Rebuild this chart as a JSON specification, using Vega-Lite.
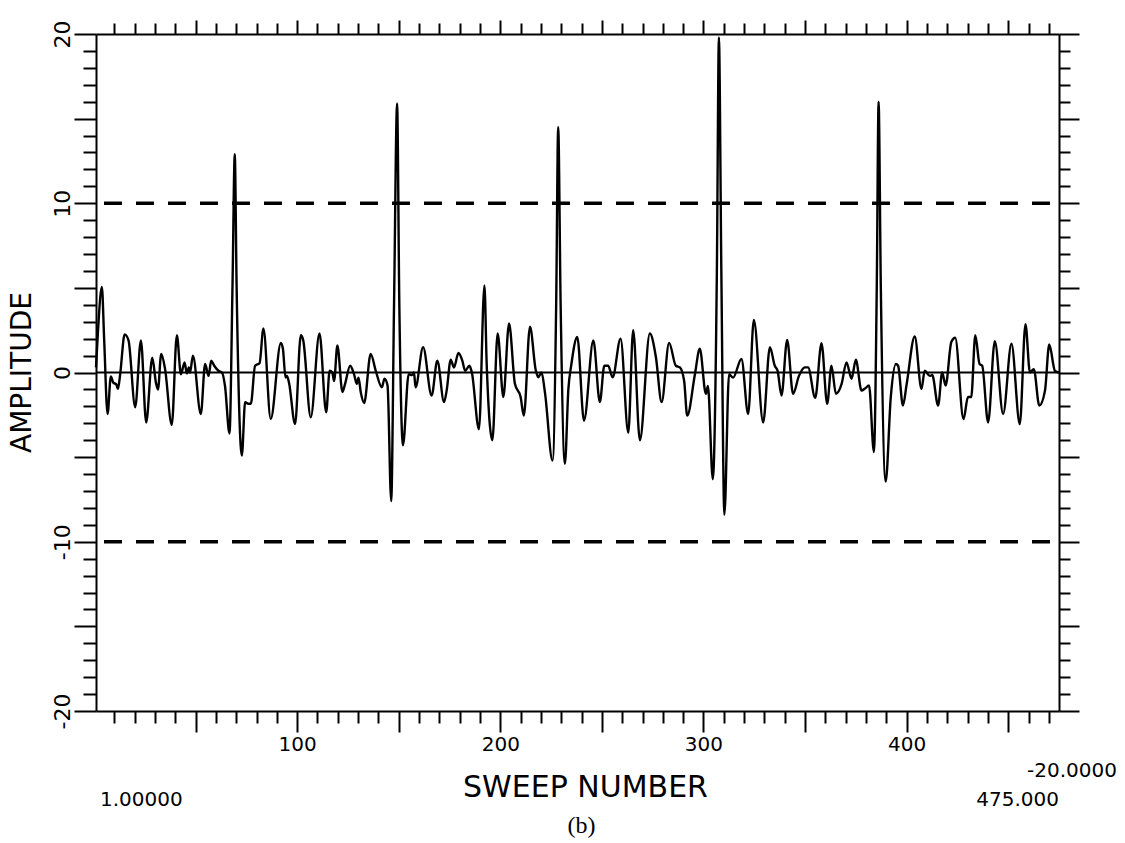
{
  "$schema": "https://vega.github.io/schema/vega-lite/v6.json",
  "width": 963,
  "height": 677,
  "autosize": {"type": "none"},
  "padding": {"left": 96, "top": 34, "right": 66, "bottom": 132},
  "background": "white",
  "config": {
    "view": {"stroke": null},
    "axis": {
      "grid": false,
      "domainColor": "black",
      "domainWidth": 2,
      "tickColor": "black",
      "tickWidth": 2,
      "labelColor": "black",
      "titleColor": "black",
      "labelFont": "DejaVu Sans",
      "titleFont": "DejaVu Sans",
      "titleFontWeight": "normal",
      "labelOverlap": false,
      "labelFlush": false
    }
  },
  "datasets": {
    "signal": [
      {"x": 1, "y": 0.3}, {"x": 2, "y": 2.5}, {"x": 3.9, "y": 5.05}, {"x": 5, "y": 2}, {"x": 6.7, "y": -2.45},
      {"x": 8.3, "y": -0.24}, {"x": 9.5, "y": -0.6}, {"x": 11, "y": -0.7}, {"x": 11.8, "y": -0.97}, {"x": 12.9, "y": -0.1},
      {"x": 15.1, "y": 2.25}, {"x": 17, "y": 1.9}, {"x": 20.3, "y": -2.05}, {"x": 23.1, "y": 1.9}, {"x": 25.7, "y": -2.95},
      {"x": 28.7, "y": 0.87}, {"x": 30.5, "y": -0.6}, {"x": 31.5, "y": -1.0}, {"x": 33.1, "y": 1.1}, {"x": 35, "y": 0.2},
      {"x": 38.3, "y": -3.1}, {"x": 40.8, "y": 2.2}, {"x": 42.8, "y": -0.1}, {"x": 44.6, "y": 0.6}, {"x": 45.7, "y": -0.05},
      {"x": 46.7, "y": 0.3}, {"x": 47.3, "y": 0}, {"x": 48.7, "y": 1.0}, {"x": 52.6, "y": -2.45}, {"x": 54.7, "y": 0.5},
      {"x": 56.4, "y": -0.2}, {"x": 57.7, "y": 0.7}, {"x": 59.2, "y": 0.4}, {"x": 61.3, "y": 0.1}, {"x": 63, "y": 0},
      {"x": 64.5, "y": -0.8}, {"x": 66.7, "y": -3.6}, {"x": 68.2, "y": 5.2}, {"x": 69.3, "y": 12.9}, {"x": 70.2, "y": 5.2},
      {"x": 72.8, "y": -4.9}, {"x": 74.4, "y": -1.75}, {"x": 76, "y": -1.85}, {"x": 77.2, "y": -1.85}, {"x": 79.3, "y": 0.4},
      {"x": 81.5, "y": 0.55}, {"x": 83.4, "y": 2.6}, {"x": 87, "y": -2.75}, {"x": 92, "y": 1.75}, {"x": 93, "y": 1.4},
      {"x": 94.3, "y": -0.3}, {"x": 95, "y": -0.2}, {"x": 96, "y": -0.6}, {"x": 99, "y": -3.05}, {"x": 101.8, "y": 2.2},
      {"x": 103, "y": 1.9}, {"x": 106.7, "y": -2.65}, {"x": 111, "y": 2.3}, {"x": 114.3, "y": -2.35}, {"x": 116, "y": 0.1},
      {"x": 117.3, "y": 0.0}, {"x": 118.2, "y": -0.5}, {"x": 119.8, "y": 1.6}, {"x": 122.3, "y": -1.15}, {"x": 123.6, "y": -0.67},
      {"x": 126.1, "y": 0.4}, {"x": 128, "y": -0.1}, {"x": 129.4, "y": -0.67}, {"x": 130.2, "y": -0.3}, {"x": 131.3, "y": -1.15},
      {"x": 133, "y": -1.8}, {"x": 136.2, "y": 1.1}, {"x": 138.7, "y": 0.1}, {"x": 141.7, "y": -0.87}, {"x": 143, "y": -0.37},
      {"x": 144.5, "y": -0.77}, {"x": 146.3, "y": -7.6}, {"x": 147.7, "y": 4}, {"x": 149.2, "y": 15.9}, {"x": 150.3, "y": 4},
      {"x": 152.1, "y": -4.3}, {"x": 154.9, "y": -0.1}, {"x": 156.5, "y": -0.15}, {"x": 157.5, "y": 0}, {"x": 158.3, "y": -0.87},
      {"x": 162, "y": 1.5}, {"x": 166.2, "y": -1.36}, {"x": 169, "y": 0.7}, {"x": 172.3, "y": -1.75}, {"x": 173.6, "y": -1.07},
      {"x": 175.6, "y": 0.75}, {"x": 177.2, "y": 0.3}, {"x": 179.4, "y": 1.15}, {"x": 181.3, "y": 0.7}, {"x": 182.7, "y": 0.1},
      {"x": 184.8, "y": 0.4}, {"x": 186, "y": 0.0}, {"x": 189.5, "y": -3.35}, {"x": 192.2, "y": 5.15}, {"x": 193.3, "y": 0.5},
      {"x": 196.1, "y": -4.0}, {"x": 198.7, "y": 2.3}, {"x": 201.5, "y": -1.45}, {"x": 204.3, "y": 2.9}, {"x": 207.2, "y": -0.67},
      {"x": 210, "y": -1.45}, {"x": 211.6, "y": -2.55}, {"x": 214.6, "y": 2.7}, {"x": 217.5, "y": 0.1}, {"x": 218.7, "y": -0.28},
      {"x": 220.3, "y": 0}, {"x": 222, "y": -1.2}, {"x": 225.7, "y": -5.2}, {"x": 227.5, "y": 4}, {"x": 228.5, "y": 14.5},
      {"x": 229.7, "y": 4}, {"x": 231.8, "y": -5.4}, {"x": 233.5, "y": -1.0}, {"x": 235, "y": 0.5}, {"x": 237.9, "y": 2.1},
      {"x": 241.2, "y": -2.85}, {"x": 245.8, "y": 1.9}, {"x": 249.0, "y": -1.75}, {"x": 251.2, "y": 0.4}, {"x": 253.1, "y": 0.4},
      {"x": 255.3, "y": -0.28}, {"x": 259.2, "y": 2.0}, {"x": 263, "y": -3.55}, {"x": 265.4, "y": 2.5}, {"x": 268.7, "y": -4.0},
      {"x": 273.6, "y": 2.3}, {"x": 276.6, "y": 0.9}, {"x": 279.4, "y": -1.75}, {"x": 283.1, "y": 1.75}, {"x": 286.4, "y": 0.4},
      {"x": 288.4, "y": 0.3}, {"x": 290.5, "y": -0.5}, {"x": 292, "y": -2.55}, {"x": 295.8, "y": -0.1}, {"x": 298.2, "y": 1.4},
      {"x": 301.2, "y": -1.26}, {"x": 302.2, "y": -0.8}, {"x": 304.6, "y": -6.3}, {"x": 306.6, "y": 6}, {"x": 307.6, "y": 19.8},
      {"x": 308.8, "y": 6}, {"x": 310.3, "y": -8.4}, {"x": 312.6, "y": -0.1}, {"x": 314.6, "y": -0.3}, {"x": 318.7, "y": 0.8},
      {"x": 322, "y": -2.45}, {"x": 324.8, "y": 3.1}, {"x": 329.4, "y": -2.95}, {"x": 332.7, "y": 1.5}, {"x": 335.1, "y": 0.4},
      {"x": 336.5, "y": 0.1}, {"x": 338.4, "y": -1.36}, {"x": 341.2, "y": 1.93}, {"x": 344.1, "y": -1.26}, {"x": 347, "y": -0.2},
      {"x": 349.9, "y": 0.3}, {"x": 351.5, "y": 0.3}, {"x": 355, "y": -1.5}, {"x": 358.1, "y": 1.73}, {"x": 360.9, "y": -1.85},
      {"x": 363, "y": 0.4}, {"x": 365.2, "y": -1.26}, {"x": 368, "y": -0.67}, {"x": 370.4, "y": 0.6}, {"x": 372.9, "y": -0.37},
      {"x": 375, "y": 0.75}, {"x": 377.8, "y": -1.07}, {"x": 379.5, "y": -0.95}, {"x": 381.5, "y": -0.77}, {"x": 383.9, "y": -4.7},
      {"x": 385.3, "y": 5}, {"x": 386.2, "y": 16.0}, {"x": 387.3, "y": 5}, {"x": 389.7, "y": -6.45}, {"x": 392.2, "y": -1.45},
      {"x": 394.7, "y": 0.5}, {"x": 395.8, "y": 0.4}, {"x": 398.2, "y": -1.95}, {"x": 400, "y": -0.7}, {"x": 404, "y": 2.13},
      {"x": 407.3, "y": -0.97}, {"x": 408.9, "y": 0.1}, {"x": 411.4, "y": -0.2}, {"x": 412.6, "y": -0.15}, {"x": 415.5, "y": -1.95},
      {"x": 417.5, "y": 0.0}, {"x": 419.2, "y": -0.77}, {"x": 422, "y": 1.8}, {"x": 423.9, "y": 2.05}, {"x": 428, "y": -2.75},
      {"x": 430.2, "y": -1.45}, {"x": 431.8, "y": -1.45}, {"x": 433.8, "y": 2.2}, {"x": 435.9, "y": 0.5}, {"x": 437.2, "y": 0.4},
      {"x": 440.1, "y": -2.95}, {"x": 443.4, "y": 1.85}, {"x": 447.5, "y": -2.45}, {"x": 451.6, "y": 1.7}, {"x": 455.7, "y": -3.05},
      {"x": 458.5, "y": 2.85}, {"x": 460.7, "y": 0}, {"x": 462.6, "y": 0.2}, {"x": 465.3, "y": -1.95}, {"x": 468.1, "y": -1.07},
      {"x": 470.2, "y": 1.65}, {"x": 473, "y": 0.1}, {"x": 475, "y": 0}
    ]
  },
  "resolve": {"axis": {"x": "independent", "y": "independent"}},
  "layer": [
    {
      "data": {"name": "signal"},
      "mark": {"type": "line", "color": "black", "strokeWidth": 2.4, "interpolate": "monotone"},
      "encoding": {
        "x": {
          "field": "x", "type": "quantitative",
          "scale": {"domain": [1, 475], "nice": false, "zero": false},
          "axis": {
            "orient": "bottom",
            "values": [10,20,30,40,50,60,70,80,90,100,110,120,130,140,150,160,170,180,190,200,210,220,230,240,250,260,270,280,290,300,310,320,330,340,350,360,370,380,390,400,410,420,430,440,450,460,470],
            "tickSize": {"condition": {"test": "datum.value % 50 === 0", "value": 21}, "value": 12},
            "labelExpr": "datum.value % 100 === 0 ? toString(datum.value) : ''",
            "labelFontSize": 20,
            "labelPadding": 2,
            "labelBaseline": "top",
            "title": "SWEEP NUMBER",
            "titleFontSize": 30,
            "titleX": 489,
            "titleY": 76,
            "titleBaseline": "middle",
            "titleAlign": "center",
            "titleAnchor": null
          }
        },
        "y": {
          "field": "y", "type": "quantitative",
          "scale": {"domain": [-20, 20], "nice": false, "zero": false},
          "axis": {
            "orient": "left",
            "values": [-20,-19,-18,-17,-16,-15,-14,-13,-12,-11,-10,-9,-8,-7,-6,-5,-4,-3,-2,-1,0,1,2,3,4,5,6,7,8,9,10,11,12,13,14,15,16,17,18,19,20],
            "tickSize": {"condition": {"test": "datum.value % 5 === 0", "value": 22}, "value": 13},
            "labelExpr": "datum.value % 10 === 0 ? toString(datum.value) : ''",
            "labelFontSize": 22,
            "labelAngle": 270,
            "labelAlign": "center",
            "labelBaseline": "bottom",
            "labelPadding": 0,
            "title": "AMPLITUDE",
            "titleFontSize": 28,
            "titleAngle": 270,
            "titleX": -74,
            "titleY": 338,
            "titleAlign": "center",
            "titleBaseline": "middle",
            "titleAnchor": null
          }
        }
      }
    },
    {
      "data": {"values": [{"level": 10}, {"level": -10}]},
      "mark": {"type": "rule", "color": "black", "strokeWidth": 3.5, "strokeDash": [18, 14], "strokeDashOffset": 23},
      "encoding": {
        "y": {
          "field": "level", "type": "quantitative",
          "scale": {"domain": [-20, 20], "nice": false, "zero": false},
          "axis": {
            "orient": "right",
            "values": [-20,-19,-18,-17,-16,-15,-14,-13,-12,-11,-10,-9,-8,-7,-6,-5,-4,-3,-2,-1,0,1,2,3,4,5,6,7,8,9,10,11,12,13,14,15,16,17,18,19,20],
            "tickSize": {"condition": {"test": "datum.value % 5 === 0", "value": 20}, "value": 11},
            "labels": false,
            "title": null
          }
        }
      }
    },
    {
      "data": {"values": [{"level": 0}]},
      "mark": {"type": "rule", "color": "black", "strokeWidth": 2},
      "encoding": {
        "x": {
          "datum": 1, "type": "quantitative",
          "scale": {"domain": [1, 475], "nice": false, "zero": false},
          "axis": {
            "orient": "top",
            "values": [10,20,30,40,50,60,70,80,90,100,110,120,130,140,150,160,170,180,190,200,210,220,230,240,250,260,270,280,290,300,310,320,330,340,350,360,370,380,390,400,410,420,430,440,450,460,470],
            "tickSize": {"condition": {"test": "datum.value % 50 === 0", "value": 14}, "value": 11},
            "labels": false,
            "title": null
          }
        },
        "x2": {"datum": 475},
        "y": {"field": "level", "type": "quantitative", "axis": null}
      }
    },
    {
      "data": {"values": [{"label": "1.00000"}]},
      "mark": {"type": "text", "font": "DejaVu Sans", "fontSize": 20, "align": "left", "baseline": "middle", "dx": 4, "dy": 89, "color": "black"},
      "encoding": {
        "x": {"datum": 1, "type": "quantitative", "axis": null},
        "y": {"datum": -20, "type": "quantitative", "axis": null},
        "text": {"field": "label"}
      }
    },
    {
      "data": {"values": [{"label": "475.000"}]},
      "mark": {"type": "text", "font": "DejaVu Sans", "fontSize": 20, "align": "right", "baseline": "middle", "dx": 0, "dy": 89, "color": "black"},
      "encoding": {
        "x": {"datum": 475, "type": "quantitative", "axis": null},
        "y": {"datum": -20, "type": "quantitative", "axis": null},
        "text": {"field": "label"}
      }
    },
    {
      "data": {"values": [{"label": "-20.0000"}]},
      "mark": {"type": "text", "font": "DejaVu Sans", "fontSize": 20, "align": "right", "baseline": "middle", "dx": 58, "dy": 60, "color": "black"},
      "encoding": {
        "x": {"datum": 475, "type": "quantitative", "axis": null},
        "y": {"datum": -20, "type": "quantitative", "axis": null},
        "text": {"field": "label"}
      }
    },
    {
      "data": {"values": [{"label": "(b)"}]},
      "mark": {"type": "text", "font": "Liberation Serif", "fontSize": 24, "align": "center", "baseline": "middle", "dy": 115, "color": "black"},
      "encoding": {
        "x": {"datum": 240, "type": "quantitative", "axis": null},
        "y": {"datum": -20, "type": "quantitative", "axis": null},
        "text": {"field": "label"}
      }
    }
  ]
}
